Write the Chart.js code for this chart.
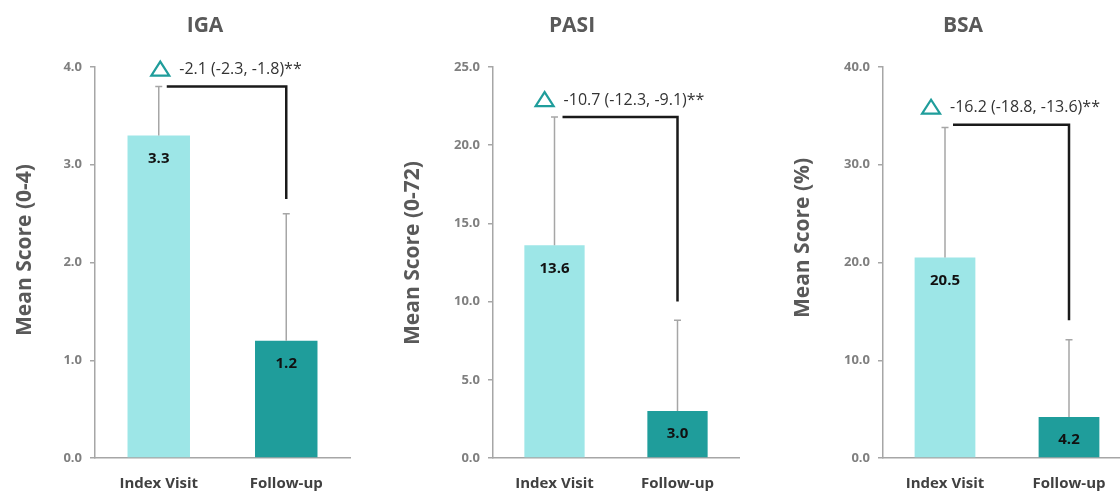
<!DOCTYPE html>
<html>
<head>
<meta charset="utf-8">
<script src="https://cdn.jsdelivr.net/npm/chart.js@4.4.1/dist/chart.umd.min.js"></script>
<style>
    html, body { margin: 0; padding: 0; background: #fff; overflow: hidden; width: 1120px; height: 492px; }
    canvas { position: absolute; top: 0; }
</style>
</head>
<body>
<canvas id="iga-chart" width="380" height="492" style="left:0px"></canvas>
<canvas id="pasi-chart" width="380" height="492" style="left:380px"></canvas>
<canvas id="bsa-chart" width="380" height="492" style="left:760px"></canvas>
<script>
// Data
const categories = ['Index Visit', 'Follow-up'];

const igaMeans = [3.3, 1.2];
const igaErrorTops = [3.8, 2.5];
const igaBracket = [3.8, 2.65];
const igaDelta = '-2.1 (-2.3, -1.8)**';

const pasiMeans = [13.6, 3.0];
const pasiErrorTops = [21.8, 8.8];
const pasiBracket = [21.8, 10.0];
const pasiDelta = '-10.7 (-12.3, -9.1)**';

const bsaMeans = [20.5, 4.2];
const bsaErrorTops = [33.8, 12.1];
const bsaBracket = [34.1, 14.1];
const bsaDelta = '-16.2 (-18.8, -13.6)**';

const FONT = '"Open Sans", Lato, sans-serif';
const LIGHT = '#9DE6E7';
const DARK = '#1F9D9B';
const AXIS = '#A6A6A6';

// titles, value labels, error bars, bracket and delta annotation
const panelMarks = {
    id: 'panelMarks',
    afterDraw(chart, args, opts) {
        const ctx = chart.ctx;
        ctx.save();
        ctx.fillStyle = '#595959';
        ctx.textAlign = 'center';
        ctx.textBaseline = 'middle';
        ctx.font = 'bold 21px ' + FONT;
        ctx.fillText(opts.title, opts.titleX, 26);

        // rotated y axis title
        ctx.font = 'bold 21px ' + FONT;
        ctx.translate(opts.axisTitleX, opts.axisTitleY);
        ctx.rotate(-Math.PI / 2);
        ctx.fillText(opts.axisTitle, 0, 0);
        ctx.restore();
    },
    afterDatasetsDraw(chart, args, opts) {
        const ctx = chart.ctx;
        const x = chart.scales.x;
        const y = chart.scales.y;
        const meta = chart.getDatasetMeta(0);
        ctx.save();

        // value labels inside the bars
        ctx.font = 'bold 15px ' + FONT;
        ctx.fillStyle = '#111';
        ctx.textAlign = 'center';
        ctx.textBaseline = 'middle';
        meta.data.forEach((bar, i) => {
            ctx.fillText(chart.data.datasets[0].data[i].toFixed(1), bar.x, bar.y + 23);
        });

        // upper error bars
        ctx.strokeStyle = AXIS;
        ctx.lineWidth = 1.5;
        meta.data.forEach((bar, i) => {
            const top = y.getPixelForValue(opts.errorTops[i]);
            ctx.beginPath();
            ctx.moveTo(bar.x, bar.y);
            ctx.lineTo(bar.x, top);
            ctx.moveTo(bar.x - 3.5, top);
            ctx.lineTo(bar.x + 3.5, top);
            ctx.stroke();
        });

        // bracket
        const bx0 = x.getPixelForValue(0) + 8;
        const bx1 = x.getPixelForValue(1);
        const by0 = y.getPixelForValue(opts.bracket[0]);
        const by1 = y.getPixelForValue(opts.bracket[1]);
        ctx.strokeStyle = '#1a1a1a';
        ctx.lineWidth = 2.5;
        ctx.beginPath();
        ctx.moveTo(bx0, by0);
        ctx.lineTo(bx1, by0);
        ctx.lineTo(bx1, by1);
        ctx.stroke();

        // delta label
        ctx.font = '16px ' + FONT;
        const tw = ctx.measureText(opts.delta).width;
        const total = 18 + 10 + tw;
        const cx = (bx0 + bx1) / 2;
        const left = cx - total / 2;
        const ty = by0 - 18;
        ctx.strokeStyle = DARK;
        ctx.lineWidth = 2.2;
        ctx.beginPath();
        ctx.moveTo(left, ty + 7);
        ctx.lineTo(left + 18, ty + 7);
        ctx.lineTo(left + 9, ty - 7);
        ctx.closePath();
        ctx.stroke();
        ctx.fillStyle = '#333';
        ctx.textAlign = 'left';
        ctx.fillText(opts.delta, left + 28, ty + 1);
        ctx.restore();
    }
};

function makePanel(id, p) {
    return new Chart(document.getElementById(id), {
        type: 'bar',
        data: {
            labels: categories,
            datasets: [{
                data: p.means,
                backgroundColor: [LIGHT, DARK],
                borderWidth: 0,
                categoryPercentage: 1,
                barPercentage: 0.49
            }]
        },
        options: {
            responsive: false,
            animation: false,
            devicePixelRatio: 1,
            layout: { padding: { left: 0, right: p.padRight, top: 67, bottom: 0 } },
            plugins: {
                legend: { display: false },
                tooltip: { enabled: false },
                title: { display: false },
                panelMarks: {
                    title: p.title, titleX: p.titleX,
                    axisTitle: p.axisTitle, axisTitleX: p.axisTitleX, axisTitleY: p.axisTitleY,
                    errorTops: p.errorTops, bracket: p.bracket, delta: p.delta
                }
            },
            scales: {
                x: {
                    grid: { display: true, drawOnChartArea: false, drawTicks: false },
                    border: { display: true, color: AXIS, width: 1.5 },
                    ticks: {
                        color: '#404040',
                        padding: 17,
                        font: { family: FONT, size: 15, weight: 'bold' }
                    },
                    afterFit: s => { s.height = 34; }
                },
                y: {
                    min: 0,
                    max: p.yMax,
                    grid: { drawOnChartArea: false, drawTicks: true, tickLength: 5, color: AXIS, lineWidth: 1.5 },
                    border: { display: true, color: AXIS, width: 1.5 },
                    ticks: {
                        stepSize: p.step,
                        color: '#7F7F7F',
                        padding: 8,
                        font: { family: FONT, size: 13, weight: 'bold' },
                        callback: v => v.toFixed(1)
                    },
                    afterFit: s => { s.width = p.axisWidth; }
                }
            }
        },
        plugins: [panelMarks]
    });
}

makePanel('iga-chart', {
    title: 'IGA', titleX: 205, axisTitle: 'Mean Score (0-4)', axisTitleX: 25, axisTitleY: 250,
    means: igaMeans, errorTops: igaErrorTops, bracket: igaBracket, delta: igaDelta,
    yMax: 4, step: 1, axisWidth: 95, padRight: 30
});
makePanel('pasi-chart', {
    title: 'PASI', titleX: 192, axisTitle: 'Mean Score (0-72)', axisTitleX: 33, axisTitleY: 253,
    means: pasiMeans, errorTops: pasiErrorTops, bracket: pasiBracket, delta: pasiDelta,
    yMax: 25, step: 5, axisWidth: 113, padRight: 21
});
makePanel('bsa-chart', {
    title: 'BSA', titleX: 203, axisTitle: 'Mean Score (%)', axisTitleX: 43, axisTitleY: 238,
    means: bsaMeans, errorTops: bsaErrorTops, bracket: bsaBracket, delta: bsaDelta,
    yMax: 40, step: 10, axisWidth: 123, padRight: 9
});
</script>
</body>
</html>
